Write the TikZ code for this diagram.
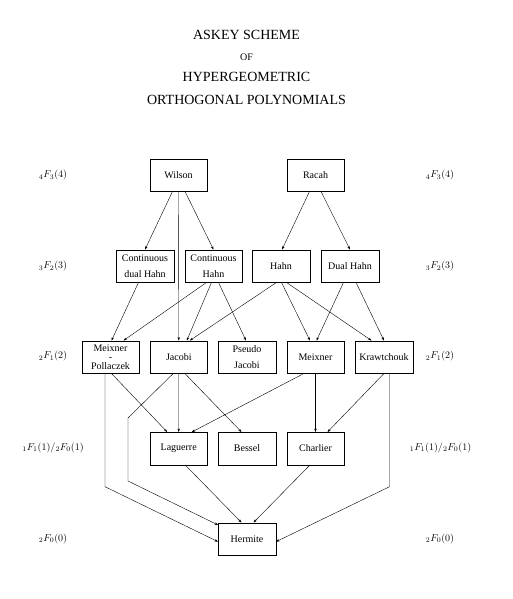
\documentclass[tikz,border=0pt]{standalone}
\usepackage{amsmath, amssymb}
\usepackage{fontspec}
\setmainfont{Liberation Serif}
\usepackage{tikz}
\usetikzlibrary{arrows.meta}

\begin{document}
\begin{tikzpicture}[x=1pt, y=-1pt,
    family/.style={draw, line width=0.4pt, minimum width=57.5pt, minimum height=32.5pt,
                   inner sep=0pt, align=center, font=\fontsize{10}{16.5}\selectfont},
    arr/.style={-{Stealth[length=3.5pt, width=2.4pt]}, line width=0.4pt},
    level/.style={font=\fontsize{10}{12}\selectfont}]
    \useasboundingbox (0,0) rectangle (512,599);

    % Title
    \node[font=\fontsize{14}{16}\selectfont] (title1) at (246.5,35) {ASKEY SCHEME};
    \node[font=\fontsize{10}{12}\selectfont] (title2) at (246.5,57) {OF};
    \node[font=\fontsize{14}{16}\selectfont] (title3) at (246.5,77) {HYPERGEOMETRIC};
    \node[font=\fontsize{14}{16}\selectfont] (title4) at (246.5,100) {ORTHOGONAL POLYNOMIALS};

    % Levels
    \node[level] (lvl4l) at (53,175) {${}_4F_3(4)$};
    \node[level] (lvl4r) at (440,175) {${}_4F_3(4)$};
    \node[level] (lvl3l) at (53,266) {${}_3F_2(3)$};
    \node[level] (lvl3r) at (440,266) {${}_3F_2(3)$};
    \node[level] (lvl2l) at (53,356) {${}_2F_1(2)$};
    \node[level] (lvl2r) at (440,356) {${}_2F_1(2)$};
    \node[level] (lvl1l) at (53,447.5) {${}_1F_1(1)/{}_2F_0(1)$};
    \node[level] (lvl1r) at (440.5,447.5) {${}_1F_1(1)/{}_2F_0(1)$};
    \node[level] (lvl0l) at (53,538.5) {${}_2F_0(0)$};
    \node[level] (lvl0r) at (440,538.5) {${}_2F_0(0)$};

    % Families
    \node[family] (wilson) at (178.5,175) {Wilson};
    \node[family] (racah) at (315.5,175) {Racah};

    \node[family] (cdhahn) at (145,266) {Continuous\\dual Hahn};
    \node[family] (chahn) at (213.5,266) {Continuous\\Hahn};
    \node[family] (hahn) at (281,266) {Hahn};
    \node[family] (dhahn) at (350,266) {Dual Hahn};

    \node[family, font=\fontsize{10}{9.2}\selectfont] (mpoll) at (110.5,357) {Meixner\\-\\Pollaczek};
    \node[family] (jacobi) at (178.8,357) {Jacobi};
    \node[family] (pjacobi) at (247,357) {Pseudo\\Jacobi};
    \node[family] (meixner) at (315.5,357) {Meixner};
    \node[family] (kraw) at (384,357) {Krawtchouk};

    \node[family] (laguerre) at (178.7,448.5) {Laguerre};
    \node[family] (bessel) at (247,448.5) {Bessel};
    \node[family] (charlier) at (315.5,448.5) {Charlier};

    \node[family] (hermite) at (247,539) {Hermite};

    % Bends of the long connectors
    \coordinate (mpbend) at (105,486.7);
    \coordinate (jacbend1) at (128,418);
    \coordinate (jacbend2) at (128,481);
    \coordinate (krbend) at (389.5,486.7);

    % 4F3 -> 3F2
    \draw[arr] ([xshift=-6pt]wilson.south) -- (cdhahn.north);
    \draw[arr] ([xshift=6.5pt]wilson.south) -- (chahn.north);
    \draw[arr] (wilson.south) -- (jacobi.north);
    \draw[arr] ([xshift=-6pt]racah.south) -- ([xshift=1pt]hahn.north);
    \draw[arr] ([xshift=5.5pt]racah.south) -- (dhahn.north);

    % 3F2 -> 2F1
    \draw[arr] ([xshift=-6.5pt]cdhahn.south) -- ([xshift=1pt]mpoll.north);
    \draw[arr] ([xshift=-7pt]chahn.south) -- ([xshift=13pt]mpoll.north);
    \draw[arr] ([xshift=-2pt]chahn.south) -- ([xshift=8pt]jacobi.north);
    \draw[arr] ([xshift=5pt]chahn.south) -- ([xshift=-1pt]pjacobi.north);
    \draw[arr] ([xshift=-4.5pt]hahn.south) -- ([xshift=11pt]jacobi.north);
    \draw[arr] ([xshift=0.5pt]hahn.south) -- ([xshift=-5.5pt]meixner.north);
    \draw[arr] ([xshift=5.5pt]hahn.south) -- ([xshift=-12.5pt]kraw.north);
    \draw[arr] ([xshift=-6.5pt]dhahn.south) -- ([xshift=1pt]meixner.north);
    \draw[arr] ([xshift=6pt]dhahn.south) -- (kraw.north);

    % 2F1 -> 1F1/2F0
    \draw[arr] ([xshift=1pt]mpoll.south) -- ([xshift=-11.5pt]laguerre.north);
    \draw[arr] (jacobi.south) -- (laguerre.north);
    \draw[arr] ([xshift=6pt]jacobi.south) -- ([xshift=-5.5pt]bessel.north);
    \draw[arr] ([xshift=-11.5pt]meixner.south) -- ([xshift=13pt]laguerre.north);
    \draw[arr] (meixner.south) -- (charlier.north);
    \draw[arr] (kraw.south) -- ([xshift=12pt]charlier.north);

    % down to Hermite
    \draw[arr] ([xshift=6.5pt]laguerre.south) -- ([xshift=-5.5pt]hermite.north);
    \draw[arr] ([xshift=-5.5pt]charlier.south) -- ([xshift=6.5pt]hermite.north);
    \draw[arr] (mpoll.south -| mpbend) -- (mpbend) -- ([yshift=-2.7pt]hermite.west);
    \draw[arr] ([xshift=-5.5pt]jacobi.south) -- (jacbend1) -- (jacbend2) -- ([yshift=14pt]hermite.west);
    \draw[arr] (kraw.south -| krbend) -- (krbend) -- ([yshift=-2.7pt]hermite.east);
\end{tikzpicture}
\end{document}
